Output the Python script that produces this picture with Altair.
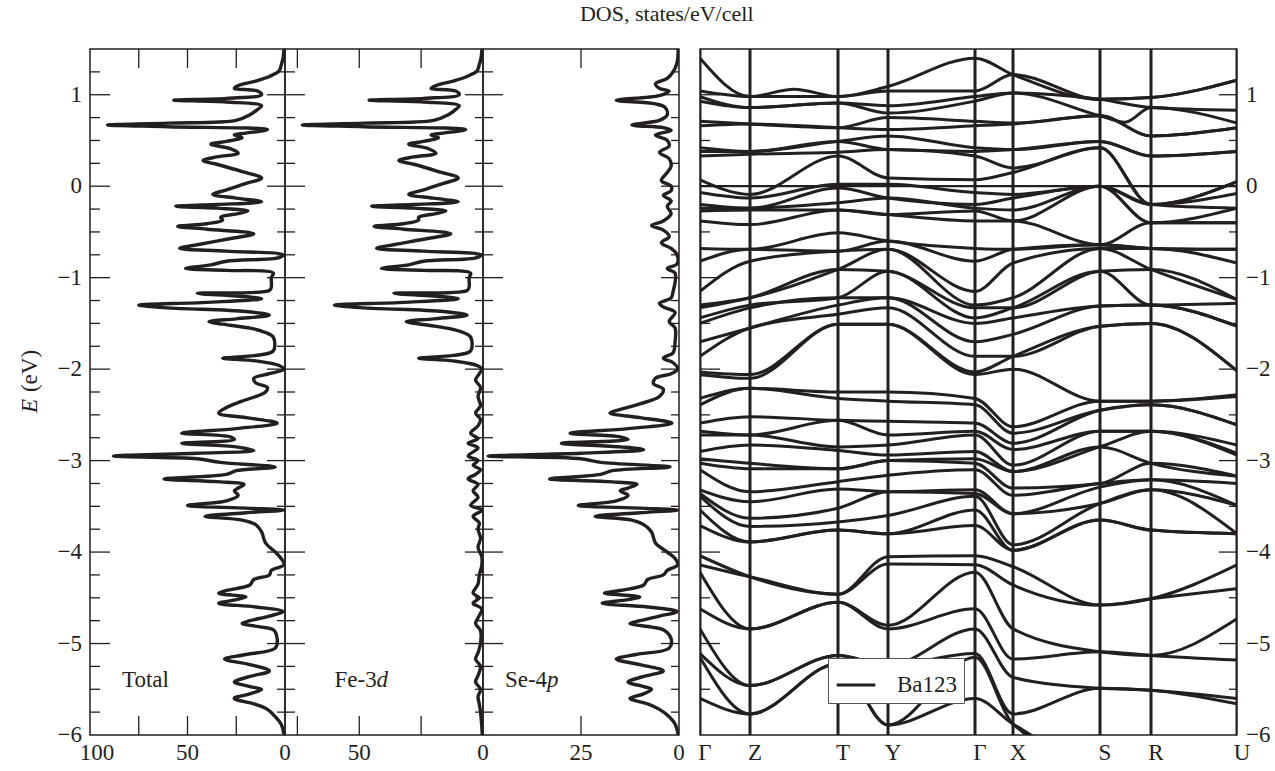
import altair as alt
import pandas as pd
import numpy as np

FONT = "Liberation Serif"
INK = "#231f20"
FS = 23

# ---------------- DOS data (E in eV, DOS values) ----------------
tot_E = [1.50, 1.40, 1.32, 1.26, 1.20, 1.15, 1.10, 1.07, 1.04, 1.00, 0.96, 0.94, 0.92, 0.88, 0.84,
         0.78, 0.72, 0.69, 0.67, 0.65, 0.62, 0.58, 0.56, 0.53, 0.49, 0.46, 0.41, 0.36, 0.32, 0.28,
         0.24, 0.16, 0.09, 0.03, -0.04, -0.09, -0.13, -0.17, -0.20, -0.22, -0.24, -0.27, -0.30, -0.34,
         -0.37, -0.41, -0.44, -0.47, -0.52, -0.58, -0.64, -0.68, -0.71, -0.75, -0.78, -0.82, -0.86,
         -0.90, -0.92, -0.95, -1.00, -1.10, -1.14, -1.17, -1.20, -1.23, -1.27, -1.30, -1.33, -1.37,
         -1.41, -1.45, -1.48, -1.52, -1.56, -1.60, -1.65, -1.80, -1.85, -1.88, -1.91, -1.96, -2.00,
         -2.05, -2.10, -2.15, -2.20, -2.25, -2.35, -2.42, -2.48, -2.53, -2.59, -2.65, -2.70, -2.74,
         -2.77, -2.81, -2.85, -2.89, -2.92, -2.95, -2.98, -3.02, -3.07, -3.11, -3.15, -3.20, -3.23,
         -3.26, -3.30, -3.33, -3.38, -3.44, -3.49, -3.52, -3.54, -3.57, -3.61, -3.65, -3.70, -3.78,
         -3.90, -4.00, -4.07, -4.14, -4.20, -4.25, -4.30, -4.36, -4.42, -4.45, -4.49, -4.52, -4.56,
         -4.60, -4.65, -4.70, -4.75, -4.78, -4.82, -4.85, -4.95, -5.05, -5.12, -5.17, -5.23, -5.30,
         -5.36, -5.42, -5.47, -5.50, -5.55, -5.60, -5.66, -5.72, -5.80, -5.88, -6.00]
tot_v = [0.5, 1, 2, 3, 8, 15, 24, 26, 14, 12, 30, 57, 30, 12, 14,
         18, 25, 60, 91, 60, 9, 20, 26, 22, 30, 38, 28, 24, 35, 42,
         35, 22, 12, 20, 30, 37, 25, 12, 35, 56, 35, 19, 24, 33,
         32, 40, 55, 40, 16, 30, 45, 54, 30, 1, 3, 30, 38,
         51, 30, 6, 7, 7, 8, 45, 25, 12, 40, 75, 60, 20,
         8, 25, 39, 28, 16, 10, 6, 6, 15, 32, 15, 3, 0.5,
         8, 16, 15, 9, 10, 22, 30, 34, 20, 4, 25, 53, 28,
         26, 53, 25, 16, 45, 88, 45, 33, 5, 25, 30, 62, 35,
         21, 24, 26, 24, 30, 50, 20, 0.5, 20, 41, 22, 15, 12,
         10, 5, 2, 0.5, 7, 8, 16, 18, 30, 34, 20, 25, 34,
         15, 1, 8, 18, 22, 12, 6, 4, 5, 20, 31, 18, 8,
         18, 26, 18, 12, 18, 26, 16, 9, 5, 2, 0.5]

fe_E = [1.50, 1.40, 1.32, 1.26, 1.20, 1.15, 1.10, 1.07, 1.04, 1.00, 0.96, 0.94, 0.92, 0.88, 0.84,
        0.78, 0.72, 0.69, 0.67, 0.65, 0.62, 0.58, 0.56, 0.53, 0.49, 0.46, 0.41, 0.36, 0.32, 0.28,
        0.24, 0.16, 0.09, 0.03, -0.04, -0.09, -0.13, -0.17, -0.20, -0.22, -0.24, -0.27, -0.30, -0.34,
        -0.37, -0.41, -0.44, -0.47, -0.52, -0.58, -0.64, -0.68, -0.71, -0.75, -0.78, -0.82, -0.86,
        -0.90, -0.92, -0.95, -1.00, -1.10, -1.14, -1.17, -1.20, -1.23, -1.27, -1.30, -1.33, -1.37,
        -1.41, -1.45, -1.48, -1.52, -1.56, -1.60, -1.65, -1.80, -1.85, -1.88, -1.91, -1.96, -2.00,
        -2.05, -2.12, -2.20, -2.30, -2.40, -2.48, -2.55, -2.62, -2.70, -2.76, -2.81, -2.86, -2.95,
        -3.00, -3.05, -3.10, -3.15, -3.20, -3.26, -3.33, -3.40, -3.49, -3.54, -3.61, -3.68, -3.75,
        -3.85, -3.95, -4.05, -4.15, -4.25, -4.35, -4.45, -4.50, -4.56, -4.62, -4.72, -4.78, -4.86,
        -5.00, -5.10, -5.17, -5.25, -5.35, -5.42, -5.50, -5.58, -5.66, -5.75, -5.90, -6.00]
fe_v = [0.4, 0.8, 1.6, 2.4, 6.4, 12, 19, 21, 11, 9.6, 24, 46, 24, 9.6, 11,
        14, 20, 48, 73, 48, 7, 16, 21, 18, 24, 30, 22, 19, 28, 34,
        28, 18, 10, 16, 24, 30, 20, 10, 28, 45, 28, 15, 19, 26,
        26, 32, 44, 32, 13, 24, 36, 43, 24, 0.8, 2.4, 24, 30,
        41, 24, 5, 5.6, 5.6, 6.4, 36, 20, 10, 32, 60, 48, 16,
        6.4, 20, 31, 22, 13, 8, 5, 5, 12, 26, 12, 2.4, 0.5,
        1.5, 3, 1, 2, 1, 3, 1, 2, 5, 2, 6, 2, 6,
        2, 4, 1, 3, 6, 2, 4, 2, 5, 0.3, 4, 1.5, 2,
        1, 2, 0.5, 0.5, 1.5, 2, 4, 1.5, 4, 0.5, 2, 3, 1,
        1, 2, 3, 1, 2, 3, 1, 2, 1.5, 1, 0.5, 0.3]

se_E = [1.50, 1.35, 1.25, 1.18, 1.12, 1.07, 1.04, 0.99, 0.94, 0.90, 0.86, 0.78, 0.72, 0.67, 0.64,
        0.61, 0.56, 0.50, 0.44, 0.37, 0.30, 0.22, 0.15, 0.06, 0.00, -0.05, -0.10, -0.16, -0.22,
        -0.30, -0.38, -0.43, -0.48, -0.55, -0.62, -0.68, -0.75, -0.85, -0.90, -0.95, -1.05, -1.15,
        -1.22, -1.28, -1.32, -1.38, -1.48, -1.55, -1.70, -1.82, -1.88, -1.93, -2.00, -2.05, -2.10,
        -2.16, -2.22, -2.30, -2.38, -2.43, -2.48, -2.53, -2.59, -2.65, -2.70, -2.74, -2.77, -2.81,
        -2.85, -2.88, -2.92, -2.95, -2.98, -3.02, -3.07, -3.11, -3.15, -3.20, -3.23, -3.26, -3.30,
        -3.33, -3.38, -3.44, -3.49, -3.52, -3.54, -3.57, -3.61, -3.65, -3.70, -3.78, -3.90, -4.00,
        -4.07, -4.14, -4.20, -4.25, -4.30, -4.36, -4.42, -4.45, -4.49, -4.52, -4.56, -4.60, -4.65,
        -4.70, -4.75, -4.78, -4.82, -4.85, -4.95, -5.05, -5.12, -5.17, -5.23, -5.30, -5.36, -5.42,
        -5.47, -5.50, -5.55, -5.60, -5.66, -5.72, -5.80, -5.88, -6.00]
se_v = [0.2, 0.5, 1.5, 3, 6, 5, 2.5, 5, 16, 6, 3.5, 3, 5, 12, 4,
        2, 6, 3, 2.5, 5, 2.5, 2, 3, 4.5, 2, 2, 4, 2, 3,
        2, 4, 7, 4, 2.5, 4.5, 2, 0.5, 0.5, 3, 1, 1, 1.5,
        2, 5, 4, 1, 2.5, 1, 1, 1.5, 4, 1.5, 0.3, 2, 6,
        6.5, 4, 5, 10, 14, 17.6, 10, 1.8, 13, 27.8, 15, 13, 30,
        15, 9, 25, 48.7, 25, 20, 2.3, 17, 20, 33, 18, 10.7, 13,
        15, 13, 16, 25.7, 10, 0.3, 10, 21.4, 12, 9, 7, 6, 3,
        1, 0.3, 3, 4, 8, 9, 15, 19, 10, 13, 19.6, 8, 0.5,
        5, 10, 12.5, 7, 4, 2, 2.5, 11, 16, 10, 4, 9, 13,
        9, 7, 9, 12.5, 8, 5, 2.5, 1, 0.2]

panel_labels = [("Total", ""), ("Fe-3", "d"), ("Se-4", "p")]
panel_label_x = [83.6, 60.0, 44.4]   # in each panel's DOS units
panel_label_E = -5.40

# energy tick labels (shared by the left DOS axis and the right band axis)
e_tick_vals = [-6, -5, -4, -3, -2, -1, 0, 1]
e_tick_text = ["\u22126", "\u22125", "\u22124", "\u22123", "\u22122", "\u22121", "0", "1"]

# DOS tick labels per panel
tot_lab_vals, tot_lab_text = [100, 50, 0], ["100", "50", "0"]
fe_lab_vals, fe_lab_text = [50, 0], ["50", "0"]
se_lab_vals, se_lab_text = [25, 0], ["25", "0"]

# ---------------- band structure data ----------------
k_names = ["Γ", "Z", "T", "Y", "Γ", "X", "S", "R", "U"]
k_pos = [0, 50, 138, 188, 275, 313, 400, 451, 537]

G_E = [1.40, 1.04, 0.98, 0.93, 0.71, 0.66,
       0.42, 0.38, 0.33, 0.07, -0.07, -0.20, -0.24, -0.27, -0.38,
       -0.68, -0.82, -1.15, -1.30, -1.33, -1.44, -1.50, -1.70, -1.86, -2.03, -2.06,
       -2.32, -2.39, -2.59, -2.68, -2.72, -2.90, -2.98, -3.03, -3.10, -3.32, -3.36, -3.39, -3.54, -3.71,
       -4.04, -4.14, -4.22, -4.62, -4.84, -5.11, -5.15, -5.60]
Z_E = [0.98, 0.98, 0.86, 0.86, 0.68, 0.68,
       0.38, 0.38, 0.35, -0.09, -0.13, -0.24, -0.24, -0.26, -0.42,
       -0.69, -0.69, -0.82, -1.22, -1.22, -1.30, -1.33, -1.55, -1.55, -2.06, -2.10,
       -2.21, -2.21, -2.52, -2.72, -2.72, -2.83, -3.03, -3.09, -3.34, -3.45, -3.63, -3.72, -3.89, -3.89,
       -4.27, -4.27, -4.84, -4.84, -5.46, -5.46, -5.77, -5.77]
T_E = [0.98, 0.98, 0.91, 0.91, 0.64, 0.64,
       0.49, 0.49, 0.37, 0.33, 0.02, -0.02, -0.18, -0.26, -0.26,
       -0.51, -0.71, -0.71, -0.91, -0.91, -1.22, -1.22, -1.30, -1.40, -1.51, -1.51,
       -2.25, -2.32, -2.56, -2.56, -2.85, -2.89, -3.09, -3.09, -3.23, -3.31, -3.52, -3.67, -3.76, -3.76,
       -4.46, -4.46, -4.55, -4.55, -5.13, -5.13, -5.22, -5.22]
Y_E = [1.09, 1.04, 0.88, 0.80, 0.75, 0.62, 0.55,
       0.40, 0.40, 0.09, 0.02, -0.13, -0.13, -0.31, -0.31,
       -0.60, -0.60, -0.69, -0.69, -0.93, -0.93, -1.22, -1.22, -1.33, -1.51, -1.51,
       -2.25, -2.35, -2.57, -2.72, -2.83, -2.94, -3.00, -3.00, -3.16, -3.34, -3.34, -3.60, -3.80, -3.80,
       -4.05, -4.13, -4.80, -4.84, -5.24, -5.24, -5.89, -5.89]
X_E = [1.22, 1.22, 1.02, 1.02, 0.69, 0.68,
       0.40, 0.40, 0.20, 0.15, -0.09, -0.13, -0.26, -0.38, -0.38,
       -0.69, -0.69, -0.84, -1.22, -1.33, -1.33, -1.44, -1.62, -1.86, -1.86, -2.00,
       -2.63, -2.70, -2.81, -2.88, -3.05, -3.12, -3.12, -3.30, -3.38, -3.58, -3.58, -3.92, -3.98, -3.98,
       -4.16, -4.36, -4.84, -5.17, -5.37, -5.77, -5.88, -5.88]
S_E = [0.95, 0.95, 0.95, 0.77, 0.77, 0.77,
       0.49, 0.49, 0.42, 0.42, 0.00, 0.00, 0.00, 0.00, -0.64,
       -0.64, -0.64, -0.68, -0.68, -0.93, -0.93, -1.31, -1.31, -1.53, -1.53, -2.35,
       -2.35, -2.45, -2.45, -2.68, -2.68, -2.85, -2.85, -3.25, -3.25, -3.29, -3.47, -3.47, -3.65, -3.65,
       -4.58, -4.58, -5.09, -5.09, -5.49, -5.49, -6.30, -6.30]
R_E = [0.97, 0.97, 0.86, 0.86, 0.55, 0.55,
       0.33, 0.33, -0.20, -0.20, -0.20, -0.20, -0.40, -0.40, -0.40,
       -0.68, -0.68, -0.68, -0.91, -0.91, -1.30, -1.30, -1.30, -1.50, -1.50, -2.35,
       -2.35, -2.39, -2.39, -2.68, -2.68, -2.68, -3.03, -3.03, -3.21, -3.21, -3.32, -3.32, -3.76, -3.76,
       -4.51, -4.51, -5.13, -5.13, -5.51, -5.51, -6.30, -6.30]
U_E = [1.16, 1.16, 0.83, 0.69, 0.64, 0.64,
       0.38, 0.38, 0.05, 0.05, -0.08, -0.24, -0.24, -0.40, -0.40,
       -0.69, -0.69, -0.84, -1.24, -1.24, -1.28, -1.53, -1.53, -2.02, -2.02, -2.28,
       -2.30, -2.61, -2.61, -2.83, -2.92, -2.94, -3.17, -3.17, -3.25, -3.49, -3.49, -3.80, -3.80, -3.80,
       -4.14, -4.40, -4.73, -5.18, -5.60, -5.66, -6.30, -6.30]
band_lists = [G_E, Z_E, T_E, Y_E, G_E, X_E, S_E, R_E, U_E]
# a few extra mid-segment readings: (band index, k, E)
band_extra = [(0, 94, 1.06), (3, 425, 0.70)]

# ---------------- layout ----------------
H = 686
W_TOT, W_FE, W_SE, W_GAP, W_BAND = 195, 198, 196, 21, 537
yscale = alt.Scale(domain=[-6, 1.5], nice=False, zero=False)
major_E = list(range(-5, 2))
minor_E = [v for v in np.arange(-5.75, 1.5, 0.25).round(2) if abs(v - round(v)) > 1e-6]
band_minor_E = [-5.5, -4.5, -3.5, -2.5, -1.5, -0.5, 0.5]
TXT = dict(font=FONT, fontSize=FS, color=INK)


def y_ticks(width, majors, minors):
    layers = []
    for vals, ll, lr in [(majors, 20, 18), (minors, 10, 8)]:
        d = pd.DataFrame({"E": vals})
        base = alt.Chart(d).mark_rule(color=INK, strokeWidth=1.3)
        layers.append(base.encode(y=alt.Y("E:Q", scale=yscale, axis=None),
                                  x=alt.value(0), x2=alt.value(ll)))
        layers.append(base.encode(y=alt.Y("E:Q", scale=yscale, axis=None),
                                  x=alt.value(width - lr), x2=alt.value(width)))
    return layers


def e_labels(x_px, align):
    d = pd.DataFrame({"E": e_tick_vals, "t": e_tick_text})
    return alt.Chart(d).mark_text(align=align, baseline="middle", **TXT).encode(
        y=alt.Y("E:Q", scale=yscale, axis=None), x=alt.value(x_px), text="t:N")


def dos_panel(E, v, xmax, width, lab_vals, lab_text, tick_vals, label, lab_x, show_y):
    df = pd.DataFrame({"E": E, "v": v, "i": range(len(E))})
    xscale = alt.Scale(domain=[0, xmax], reverse=True, nice=False, zero=False)
    X = lambda: alt.X("v:Q", scale=xscale, axis=None)
    Y = lambda: alt.Y("E:Q", scale=yscale, axis=None)
    line = alt.Chart(df).mark_line(color=INK, strokeWidth=3.4, interpolate="catmull-rom",
                                   clip=True).encode(x=X(), y=Y(), order=alt.Order("i:Q"))
    layers = [line]
    td = pd.DataFrame({"v": tick_vals})
    tb = alt.Chart(td).mark_rule(color=INK, strokeWidth=1.3)
    layers.append(tb.encode(x=X(), y=alt.value(0), y2=alt.value(19)))
    layers.append(tb.encode(x=X(), y=alt.value(H - 19), y2=alt.value(H)))
    layers += y_ticks(width, major_E, minor_E)
    # x tick labels (a label sitting on the panel's outer left edge is nudged inward)
    for val, txt in zip(lab_vals, lab_text):
        xl = pd.DataFrame({"v": [val], "t": [txt]})
        layers.append(alt.Chart(xl).mark_text(align="center", baseline="top",
                                              dx=7 if val == xmax else 0, **TXT).encode(
            x=X(), y=alt.value(H + 7), text="t:N"))
    # panel name
    ld = pd.DataFrame({"v": [lab_x], "E": [panel_label_E], "a": [label[0]], "b": [label[1]]})
    layers.append(alt.Chart(ld).mark_text(align="left", baseline="middle", **TXT).encode(
        x=X(), y=Y(), text="a:N"))
    if label[1]:
        layers.append(alt.Chart(ld).mark_text(align="left", baseline="middle", fontStyle="italic",
                                              dx=42, **TXT).encode(x=X(), y=Y(), text="b:N"))
    if show_y:
        layers.append(e_labels(-8, "right"))
        td2 = pd.DataFrame({"a": ["E"], "b": ["(eV)"]})
        layers.append(alt.Chart(td2).mark_text(angle=270, align="center", baseline="middle",
                                               fontStyle="italic", **TXT).encode(
            x=alt.value(-60), y=alt.value(357), text="a:N"))
        layers.append(alt.Chart(td2).mark_text(angle=270, align="center", baseline="middle",
                                               **TXT).encode(
            x=alt.value(-60), y=alt.value(322), text="b:N"))
    return alt.layer(*layers).properties(width=width, height=H)


total = dos_panel(tot_E, tot_v, 100, W_TOT, tot_lab_vals, tot_lab_text, [25, 50, 75],
                  panel_labels[0], panel_label_x[0], True)
fe = dos_panel(fe_E, fe_v, 80, W_FE, fe_lab_vals, fe_lab_text, [25, 50, 75],
               panel_labels[1], panel_label_x[1], False)
se = dos_panel(se_E, se_v, 50, W_SE, se_lab_vals, se_lab_text, [25],
               panel_labels[2], panel_label_x[2], False)

# empty spacer between the DOS block and the band panel
gap = alt.Chart(pd.DataFrame({"E": [0]})).mark_point(opacity=0).encode(
    y=alt.Y("E:Q", scale=yscale, axis=None)).properties(
    width=W_GAP, height=H, view=alt.ViewBackground(stroke="transparent"))

# band panel
rows = []
for b in range(len(G_E)):
    for kp, lst in zip(k_pos, band_lists):
        rows.append({"band": b, "k": kp, "E": lst[b], "series": "Ba123"})
for b, kp, e in band_extra:
    rows.append({"band": b, "k": kp, "E": e, "series": "Ba123"})
bdf = pd.DataFrame(rows).sort_values(["band", "k"]).reset_index(drop=True)
kscale = alt.Scale(domain=[0, 537], nice=False, zero=False)
KX = lambda: alt.X("k:Q", scale=kscale, axis=None)

bands = alt.Chart(bdf).mark_line(strokeWidth=3, interpolate="monotone", clip=True).encode(
    x=KX(),
    y=alt.Y("E:Q", scale=yscale, axis=None),
    detail="band:N",
    color=alt.Color("series:N", scale=alt.Scale(domain=["Ba123"], range=[INK]),
                    legend=alt.Legend(title=None, orient="none", legendX=128, legendY=657 - 48,
                                      fillColor="white", strokeColor="#555555", padding=6,
                                      symbolType="stroke", symbolStrokeWidth=3, symbolSize=1500,
                                      symbolOffset=1, labelFont=FONT, labelFontSize=FS,
                                      labelColor=INK, labelOffset=20)))
kdf = pd.DataFrame({"k": k_pos, "name": k_names})
klines = alt.Chart(kdf).mark_rule(color=INK, strokeWidth=3, clip=True).encode(x=KX())
klabels = alt.Chart(kdf).mark_text(align="center", baseline="top", dx=5, **TXT).encode(
    x=KX(), y=alt.value(H + 7), text="name:N")
fermi = alt.Chart(pd.DataFrame({"E": [0]})).mark_rule(color=INK, strokeWidth=2.2).encode(
    y=alt.Y("E:Q", scale=yscale, axis=None))
band_layers = [bands, klines, fermi, klabels, e_labels(W_BAND + 9, "left")] + \
    y_ticks(W_BAND, list(range(-5, 2)), band_minor_E)
band = alt.layer(*band_layers).properties(width=W_BAND, height=H)

chart = alt.hconcat(total, fe, se, gap, band, spacing=0, bounds="flush").resolve_scale(
    color="independent").resolve_legend(color="independent").properties(
    title=alt.TitleParams("DOS, states/eV/cell", font=FONT, fontSize=22, fontWeight="normal",
                          color=INK, anchor="middle", dx=22, offset=22),
    padding={"left": 18, "top": 2, "right": 2, "bottom": 2},
    background="white",
).configure_view(stroke=INK, strokeWidth=1.5)

chart.save("out.html", embed_options={"renderer": "svg", "actions": False})
